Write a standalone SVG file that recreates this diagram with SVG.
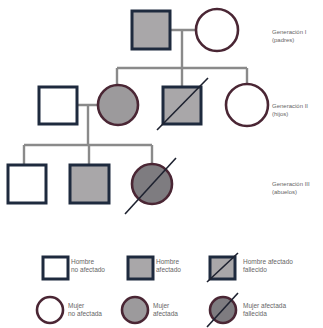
<svg xmlns="http://www.w3.org/2000/svg" width="323" height="328" viewBox="0 0 323 328">
<style>
.sq{stroke:#1e2a3e;stroke-width:3;fill:#fff}
.sqa{fill:#a9a7a9}
.ci{stroke:#4a2634;stroke-width:2.6;fill:#fff}
.cia{fill:#9c9a9c}
.cid{fill:#7e7c80}
.ln{stroke:#8a8a8a;stroke-width:2.4;fill:none}
.sl{stroke:#1e2230;stroke-width:1.6}
.lab{font-family:"Liberation Sans",Arial,sans-serif;font-size:6px;fill:#666}
.leg{font-family:"Liberation Sans",Arial,sans-serif;font-size:6.5px;fill:#666}
</style>
<rect width="323" height="328" fill="#fff"/>
<g id="connectors">
<path class="ln" d="M170 30H196M182 30V68M117 68H247M117 68V85M182 68V88M247 68V85"/>
<path class="ln" d="M78 105H98M88 105V145M24 145H152M24 145V165M89 145V165M152 145V163"/>
</g>
<g id="gen1-father"><rect class="sq sqa" x="132" y="11" width="38" height="38"/></g>
<g id="gen1-mother"><circle class="ci" cx="217" cy="30" r="21"/></g>
<g id="gen2-husband"><rect class="sq" x="39" y="87" width="38" height="37"/></g>
<g id="gen2-daughter"><circle class="ci cia" cx="118" cy="105" r="20"/></g>
<g id="gen2-son"><rect class="sq sqa" x="163" y="87" width="38" height="37"/><line class="sl" x1="157" y1="130" x2="208" y2="78"/></g>
<g id="gen2-daughter2"><circle class="ci" cx="247" cy="105" r="21"/></g>
<g id="gen3-son1"><rect class="sq" x="8" y="165" width="38" height="38"/></g>
<g id="gen3-son2"><rect class="sq sqa" x="70" y="165" width="39" height="38"/></g>
<g id="gen3-daughter"><circle class="ci cid" cx="152" cy="184" r="20"/><line class="sl" x1="125" y1="214" x2="176" y2="158"/></g>
<g id="labels">
<text class="lab" x="272" y="34">Generación I</text>
<text class="lab" x="272" y="42">(padres)</text>
<text class="lab" x="272" y="108">Generación II</text>
<text class="lab" x="272" y="116">(hijos)</text>
<text class="lab" x="272" y="186">Generación III</text>
<text class="lab" x="272" y="194">(abuelos)</text>
</g>
<g id="legend">
<rect class="sq" x="43" y="257" width="25" height="22" stroke-width="2.4"/>
<text class="leg" x="71" y="264">Hombre</text><text class="leg" x="71" y="272">no afectado</text>
<rect class="sq sqa" x="128" y="257" width="25" height="22" stroke-width="2.4"/>
<text class="leg" x="156" y="264">Hombre</text><text class="leg" x="156" y="272">afectado</text>
<rect class="sq sqa" x="210" y="257" width="25" height="22" stroke-width="2.4"/>
<line class="sl" x1="207" y1="282" x2="238" y2="253" stroke-width="1.2"/>
<text class="leg" x="243" y="264">Hombre afectado</text><text class="leg" x="243" y="272">fallecido</text>
<circle class="ci" cx="50" cy="310" r="13" stroke-width="1.8"/>
<text class="leg" x="68" y="308">Mujer</text><text class="leg" x="68" y="316">no afectada</text>
<circle class="ci cia" cx="135" cy="310" r="13" stroke-width="1.8"/>
<text class="leg" x="153" y="308">Mujer</text><text class="leg" x="153" y="316">afectada</text>
<circle class="ci cid" cx="223" cy="310" r="13" stroke-width="1.8"/>
<line class="sl" x1="207" y1="327" x2="238" y2="293" stroke-width="1.2"/>
<text class="leg" x="243" y="308">Mujer afectada</text><text class="leg" x="243" y="316">fallecida</text>
</g>
</svg>
